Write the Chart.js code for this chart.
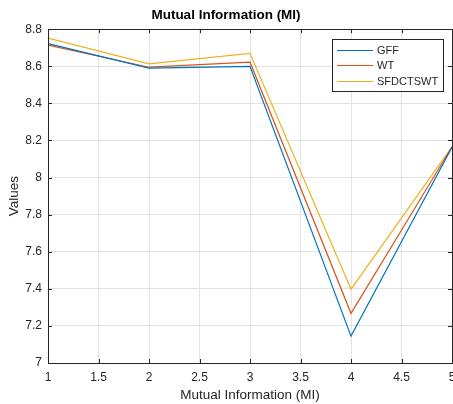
<!DOCTYPE html>
<html>
<head>
<meta charset="utf-8">
<script src="https://cdn.jsdelivr.net/npm/chart.js@4.4.0/dist/chart.umd.min.js"></script>
<style>
  html, body { margin: 0; padding: 0; background: #fff; overflow: hidden; }
  #wrap { width: 453px; height: 404px; overflow: hidden; }
  #wrap canvas { display: block; }
</style>
</head>
<body>
<div id="wrap"><canvas id="grafico" width="460" height="404"></canvas></div>
<script>
// Datos
const posiciones = [1, 2, 3, 4, 5];
const serieGFF = [8.722, 8.59, 8.60, 7.145, 8.163];
const serieWT = [8.714, 8.595, 8.622, 7.268, 8.165];
const serieSFDCTSWT = [8.752, 8.613, 8.67, 7.398, 8.166];
const nombresSeries = ['GFF', 'WT', 'SFDCTSWT'];
const coloresSeries = ['#0072BD', '#D95319', '#EDB120'];
const ticksX = [1, 1.5, 2, 2.5, 3, 3.5, 4, 4.5, 5];
const ticksY = [7, 7.2, 7.4, 7.6, 7.8, 8, 8.2, 8.4, 8.6, 8.8];

const colorEje = '#262626';
const fuente = "'Liberation Sans', Arial, sans-serif";

const aPuntos = serie => serie.map((v, i) => ({ x: posiciones[i], y: v }));
const etiqueta = v => String(Math.round(v * 10) / 10);

// Caja estilo MATLAB con marcas hacia dentro
const cajaEjes = {
  id: 'cajaEjes',
  afterDatasetsDraw(chart) {
    const { ctx, chartArea: a, scales } = chart;
    ctx.save();
    ctx.strokeStyle = colorEje;
    ctx.lineWidth = 1;
    ctx.beginPath();
    ticksX.forEach(t => {
      const px = Math.round(scales.x.getPixelForValue(t)) + 0.5;
      ctx.moveTo(px, a.bottom); ctx.lineTo(px, a.bottom - 4);
      ctx.moveTo(px, a.top); ctx.lineTo(px, a.top + 4);
    });
    ticksY.forEach(t => {
      const py = Math.round(scales.y.getPixelForValue(t)) + 0.5;
      ctx.moveTo(a.left, py); ctx.lineTo(a.left + 4, py);
      ctx.moveTo(a.right, py); ctx.lineTo(a.right - 4, py);
    });
    ctx.stroke();
    ctx.strokeRect(Math.round(a.left) + 0.5, Math.round(a.top) + 0.5,
      Math.round(a.right - a.left), Math.round(a.bottom - a.top));
    ctx.restore();
  },
  afterDraw(chart) {
    // Leyenda dentro del área
    const { ctx } = chart;
    const x0 = 332.5, y0 = 39.5, w = 111, h = 52;
    ctx.save();
    ctx.fillStyle = '#fff';
    ctx.fillRect(x0, y0, w, h);
    ctx.strokeStyle = colorEje;
    ctx.lineWidth = 1;
    ctx.strokeRect(x0, y0, w, h);
    const filas = [50, 65, 81];
    ctx.font = '11px ' + fuente;
    ctx.textBaseline = 'middle';
    chart.data.datasets.forEach((ds, i) => {
      const yy = filas[i] + 0.5;
      ctx.strokeStyle = ds.borderColor;
      ctx.lineWidth = 1.2;
      ctx.beginPath();
      ctx.moveTo(337, yy); ctx.lineTo(373, yy);
      ctx.stroke();
      ctx.fillStyle = colorEje;
      ctx.fillText(ds.label, 377, filas[i] + 1);
    });
    ctx.restore();
  }
};

const datasets = [serieGFF, serieWT, serieSFDCTSWT].map((serie, i) => ({
  label: nombresSeries[i],
  data: aPuntos(serie),
  borderColor: coloresSeries[i],
  backgroundColor: coloresSeries[i],
  borderWidth: 1.2,
  pointRadius: 0,
  tension: 0,
  fill: false
}));

new Chart(document.getElementById('grafico'), {
  type: 'line',
  data: { datasets },
  options: {
    responsive: false,
    animation: false,
    events: [],
    layout: { padding: { top: 0, right: 8, bottom: 0, left: 0 } },
    plugins: {
      legend: { display: false },
      tooltip: { enabled: false },
      title: {
        display: true,
        text: 'Mutual Information (MI)',
        color: '#000',
        font: { family: fuente, size: 13.5, weight: 'bold' },
        padding: { top: 7.5, bottom: 5.5 }
      }
    },
    scales: {
      x: {
        type: 'linear',
        min: 1, max: 5,
        afterBuildTicks: s => { s.ticks = ticksX.map(v => ({ value: v })); },
        afterFit: s => { s.height = 41; s.paddingLeft = 0; s.paddingRight = 0; },
        grid: { color: '#e3e3e3', drawTicks: false },
        border: { display: false },
        ticks: { color: colorEje, padding: 7, maxRotation: 0, font: { family: fuente, size: 12 }, callback: etiqueta },
        title: {
          display: true, text: 'Mutual Information (MI)', color: colorEje,
          font: { family: fuente, size: 13.5 }, padding: { top: 0, bottom: 1 }
        }
      },
      y: {
        min: 7, max: 8.8,
        afterBuildTicks: s => { s.ticks = ticksY.map(v => ({ value: v })); },
        afterFit: s => { s.width = 48; },
        grid: { color: '#e3e3e3', drawTicks: false },
        border: { display: false },
        ticks: { color: colorEje, padding: 6, font: { family: fuente, size: 12 }, callback: etiqueta },
        title: {
          display: true, text: 'Values', color: colorEje,
          font: { family: fuente, size: 13.5 }, padding: { top: 6, bottom: 0 }
        }
      }
    }
  },
  plugins: [cajaEjes]
});
</script>
</body>
</html>
